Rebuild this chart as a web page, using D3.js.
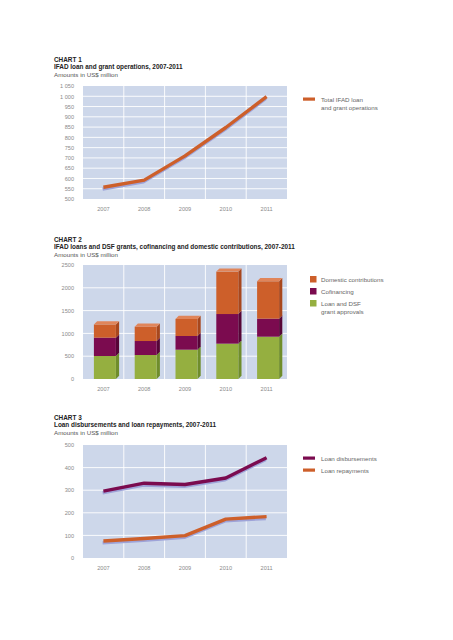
<!DOCTYPE html>
<html><head><meta charset="utf-8">
<script src="https://cdn.jsdelivr.net/npm/d3@7"></script>
<style>
body{margin:0;background:#fff;}
text{font-family:"Liberation Sans",Arial,sans-serif;}
</style></head>
<body>
<svg id="c" width="453" height="640"></svg>
<script>
const years = ["2007","2008","2009","2010","2011"];
// Chart 1
const totalOps = [557, 592, 710, 848, 998];
const ticks1 = [500,550,600,650,700,750,800,850,900,950,1000,1050];
// Chart 2
const loanGrant = [504, 526, 643, 775, 928];
const cofinancing = [402, 307, 300, 650, 395];
const domestic = [290, 315, 375, 930, 820];
const ticks2 = [0,500,1000,1500,2000,2500];
// Chart 3
const disbursements = [296, 331, 325, 354, 444];
const repayments = [75, 86, 99, 172, 183];
const ticks3 = [0,100,200,300,400,500];

const C = {orange:"#cd5f2a", purple:"#7b0b4f", green:"#95af40", bg:"#cdd7ea", shadow:"#9ea3d8"};
const svg = d3.select("#c");
const fmtSp = v => { const s=String(v); return s.length>3 ? s.slice(0,s.length-3)+" "+s.slice(-3) : s; };

function titles(y, a, b, c){
  svg.append("text").attr("x",54).attr("y",y).attr("font-size",6.4).attr("font-weight","bold").attr("fill","#222").text(a);
  svg.append("text").attr("x",54).attr("y",y+7.4).attr("font-size",6.4).attr("font-weight","bold").attr("fill","#222").text(b);
  svg.append("text").attr("x",54).attr("y",y+14.6).attr("font-size",6.2).attr("fill","#555").text(c);
}

function frame(top, bottom, domain, ticks, tickFmt){
  const x = d3.scaleBand().domain(years).range([83,287]);
  const y = d3.scaleLinear().domain(domain).range([bottom, top]);
  const g = svg.append("g");
  g.append("rect").attr("x",83).attr("y",top).attr("width",204).attr("height",bottom-top).attr("fill",C.bg);
  g.selectAll(".h").data(ticks.slice(1,-1)).join("line")
    .attr("x1",83).attr("x2",287).attr("y1",d=>y(d)).attr("y2",d=>y(d)).attr("stroke","#fff").attr("stroke-width",0.9);
  g.selectAll(".v").data(years.slice(1)).join("line")
    .attr("x1",d=>x(d)).attr("x2",d=>x(d)).attr("y1",top).attr("y2",bottom).attr("stroke","#fff").attr("stroke-width",0.9);
  const ya = d3.axisLeft(y).tickValues(ticks).tickSize(0).tickFormat(tickFmt);
  const ag = svg.append("g").attr("transform","translate(77,0)").call(ya);
  ag.select(".domain").remove();
  ag.selectAll("text").attr("font-size",5.6).attr("fill","#8a8a8a").attr("font-family","Liberation Sans, Arial, sans-serif");
  const xa = d3.axisBottom(x).tickSize(0);
  const xg = svg.append("g").attr("transform",`translate(0,${bottom+5})`).call(xa);
  xg.select(".domain").remove();
  xg.selectAll("text").attr("font-size",5.6).attr("fill","#8a8a8a").attr("font-family","Liberation Sans, Arial, sans-serif");
  return {x,y};
}

function drawLine(sc, vals, color){
  const line = d3.line().x((d,i)=>sc.x(years[i])+sc.x.bandwidth()/2).y(d=>sc.y(d));
  svg.append("path").datum(vals).attr("d",line).attr("fill","none").attr("stroke",C.shadow)
    .attr("stroke-width",3.4).attr("transform","translate(-0.8,1.8)").attr("stroke-linejoin","round");
  svg.append("path").datum(vals).attr("d",line).attr("fill","none").attr("stroke",color)
    .attr("stroke-width",3.4).attr("stroke-linejoin","round");
}

function legLine(y, color, lines){
  svg.append("rect").attr("x",303).attr("y",y-2.5).attr("width",12).attr("height",3.2).attr("fill",color);
  lines.forEach((t,i)=>svg.append("text").attr("x",321).attr("y",y+2+i*8).attr("font-size",6.2).attr("fill","#666").text(t));
}
function legBox(y, color, lines){
  svg.append("rect").attr("x",310).attr("y",y-4).attr("width",6.5).attr("height",6.5).attr("fill",color);
  lines.forEach((t,i)=>svg.append("text").attr("x",321).attr("y",y+2+i*8).attr("font-size",6.2).attr("fill","#666").text(t));
}

// Chart 1
titles(62, "CHART 1", "IFAD loan and grant operations, 2007-2011", "Amounts in US$ million");
const s1 = frame(86, 199, [500,1050], ticks1, fmtSp);
drawLine(s1, totalOps, C.orange);
legLine(100, C.orange, ["Total IFAD loan","and grant operations"]);

// Chart 2
titles(242, "CHART 2", "IFAD loans and DSF grants, cofinancing and domestic contributions, 2007-2011", "Amounts in US$ million");
const s2 = frame(265, 379, [0,2500], ticks2, d=>String(d));
const stackData = years.map((yr,i)=>({yr, l:loanGrant[i], c:cofinancing[i], d:domestic[i]}));
const stack = d3.stack().keys(["l","c","d"])(stackData);
const cols = {l:[C.green,"#6f8d2b","#b2c767"], c:[C.purple,"#560536","#98356e"], d:[C.orange,"#a8471d","#e0855a"]};
const dx=3.2, dy=3.2, bw=22;
stack.forEach(layer=>{
  const col = cols[layer.key];
  layer.forEach((seg,i)=>{
    const x0 = s2.x(years[i]) + s2.x.bandwidth()/2 - 9.5;
    const yTop = s2.y(seg[1]), yBot = s2.y(seg[0]);
    svg.append("path").attr("d",`M${x0+bw},${yBot}L${x0+bw+dx},${yBot-dy}L${x0+bw+dx},${yTop-dy}L${x0+bw},${yTop}Z`).attr("fill",col[1]);
    svg.append("rect").attr("x",x0).attr("y",yTop).attr("width",bw).attr("height",yBot-yTop).attr("fill",col[0]);
    if(layer.key==="d"){
      svg.append("path").attr("d",`M${x0},${yTop}L${x0+dx},${yTop-dy}L${x0+bw+dx},${yTop-dy}L${x0+bw},${yTop}Z`).attr("fill",col[2]);
    }
  });
});
legBox(280, C.orange, ["Domestic contributions"]);
legBox(292, C.purple, ["Cofinancing"]);
legBox(304, C.green, ["Loan and DSF","grant approvals"]);

// Chart 3
titles(420, "CHART 3", "Loan disbursements and loan repayments, 2007-2011", "Amounts in US$ million");
const s3 = frame(445, 558, [0,500], ticks3, d=>String(d));
drawLine(s3, repayments, C.orange);
drawLine(s3, disbursements, C.purple);
legLine(459, C.purple, ["Loan disbursements"]);
legLine(471, C.orange, ["Loan repayments"]);
</script>
</body></html>
